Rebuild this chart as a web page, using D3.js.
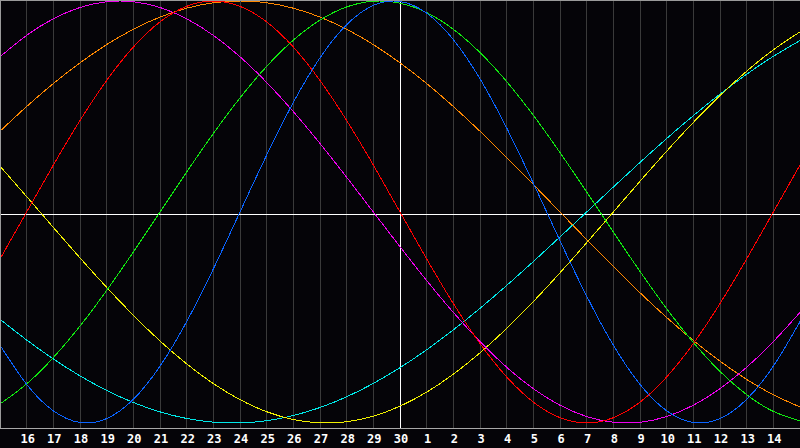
<!DOCTYPE html>
<html><head><meta charset="utf-8">
<script src="https://cdn.jsdelivr.net/npm/d3@7"></script>
<style>
html,body{margin:0;padding:0;background:#000;}
svg{display:block;}
</style></head>
<body>
<svg id="chart" width="800" height="448"></svg>
<script>
// day offsets of the 30-day window (0 = the 15th)
const dayOffsets = [0,1,2,3,4,5,6,7,8,9,10,11,12,13,14,15,16,17,18,19,20,21,22,23,24,25,26,27,28,29,30];
const tickOffsets = [1,2,3,4,5,6,7,8,9,10,11,12,13,14,15,16,17,18,19,20,21,22,23,24,25,26,27,28,29];
const tickLabels = ["16","17","18","19","20","21","22","23","24","25","26","27","28","29","30","1","2","3","4","5","6","7","8","9","10","11","12","13","14"];
const todayOffset = 15;

const physical = [-0.6311,-0.8170,-0.9423,-0.9977,-0.9791,-0.8879,-0.7308,-0.5196,-0.2698,0,0.2698,0.5196,0.7308,0.8879,0.9791,0.9977,0.9423,0.8170,0.6311,0.3984,0.1362,-0.1362,-0.3984,-0.6311,-0.8170,-0.9423,-0.9977,-0.9791,-0.8879,-0.7308,-0.5196];
const emotional = [-0.2225,0,0.2225,0.4339,0.6235,0.7818,0.9010,0.9749,1,0.9749,0.9010,0.7818,0.6235,0.4339,0.2225,0,-0.2225,-0.4339,-0.6235,-0.7818,-0.9010,-0.9749,-1,-0.9749,-0.9010,-0.7818,-0.6235,-0.4339,-0.2225,0,0.2225];
const intellectual = [-0.9096,-0.8146,-0.6901,-0.5406,-0.3717,-0.1893,0,0.1893,0.3717,0.5406,0.6901,0.8146,0.9096,0.9718,0.9989,0.9898,0.9450,0.8660,0.7557,0.6182,0.4582,0.2817,0.0951,-0.0951,-0.2817,-0.4582,-0.6182,-0.7557,-0.8660,-0.9450,-0.9898];
const intuitive = [0.7357,0.8372,0.9158,0.9694,0.9966,0.9966,0.9694,0.9158,0.8372,0.7357,0.6142,0.4759,0.3247,0.1646,0,-0.1646,-0.3247,-0.4759,-0.6142,-0.7357,-0.8372,-0.9158,-0.9694,-0.9966,-0.9966,-0.9694,-0.9158,-0.8372,-0.7357,-0.6142,-0.4759];
const aesthetic = [0.2174,0.0730,-0.0730,-0.2174,-0.3572,-0.4894,-0.6112,-0.7199,-0.8133,-0.8894,-0.9465,-0.9834,-0.9993,-0.9940,-0.9675,-0.9203,-0.8536,-0.7687,-0.6673,-0.5517,-0.4245,-0.2881,-0.1456,0,0.1456,0.2881,0.4245,0.5517,0.6673,0.7687,0.8536];
const awareness = [0.3827,0.5,0.6088,0.7071,0.7934,0.8660,0.9239,0.9659,0.9914,1,0.9914,0.9659,0.9239,0.8660,0.7934,0.7071,0.6088,0.5,0.3827,0.2588,0.1305,0,-0.1305,-0.2588,-0.3827,-0.5,-0.6088,-0.7071,-0.7934,-0.8660,-0.9239];
const spiritual = [-0.5085,-0.6068,-0.6965,-0.7766,-0.8456,-0.9027,-0.9473,-0.9786,-0.9961,-0.9996,-0.9890,-0.9646,-0.9267,-0.8758,-0.8125,-0.7378,-0.6528,-0.5586,-0.4566,-0.3482,-0.2349,-0.1183,0,0.1183,0.2349,0.3482,0.4566,0.5586,0.6528,0.7378,0.8125];

const seriesNames = ["awareness","spiritual","aesthetic","intuitive","emotional","intellectual","physical"];
const seriesValues = [awareness, spiritual, aesthetic, intuitive, emotional, intellectual, physical];
const seriesColors = ["#ff8800","#00e8e8","#f0f000","#ee00ee","#ff0000","#10e810","#0a64ff"];

const W = 800, H = 448, plotBottom = 428;
const svg = d3.select("#chart");
svg.append("rect").attr("width", W).attr("height", H).attr("fill", "#050408");

const x = d3.scaleLinear().domain([0, 30]).range([0, 800]);
const y = d3.scaleLinear().domain([-1, 1]).range([423, 1]);
const px = v => Math.floor(v) + 0.5;

svg.append("defs").append("clipPath").attr("id", "clip")
  .append("rect").attr("x", 0).attr("y", 0).attr("width", W).attr("height", plotBottom);

// grid
svg.append("g").selectAll("line").data(tickOffsets).join("line")
  .attr("x1", d => px(x(d))).attr("x2", d => px(x(d)))
  .attr("y1", 0).attr("y2", plotBottom)
  .attr("stroke", "#3a3a3a").attr("stroke-width", 1)
  .attr("shape-rendering", "crispEdges");

// zero line and today line
svg.append("line").attr("x1", 0).attr("x2", W)
  .attr("y1", px(y(0)) + 2).attr("y2", px(y(0)) + 2)
  .attr("stroke", "#ffffff").attr("shape-rendering", "crispEdges");
svg.append("line").attr("x1", px(x(todayOffset))).attr("x2", px(x(todayOffset)))
  .attr("y1", 0).attr("y2", plotBottom)
  .attr("stroke", "#ffffff").attr("shape-rendering", "crispEdges");

// curves
const line = d3.line().x((d, i) => x(dayOffsets[i])).y(d => y(d)).curve(d3.curveNatural);
svg.append("g").attr("clip-path", "url(#clip)").selectAll("path").data(seriesValues).join("path")
  .attr("d", d => line(d))
  .attr("fill", "none")
  .attr("stroke", (d, i) => seriesColors[i])
  .attr("stroke-width", 1)
  .attr("shape-rendering", "crispEdges");

// borders
svg.append("line").attr("x1", 0).attr("x2", W).attr("y1", 0.5).attr("y2", 0.5)
  .attr("stroke", "#9a9a9a").attr("shape-rendering", "crispEdges");
svg.append("line").attr("x1", 0.5).attr("x2", 0.5).attr("y1", 0).attr("y2", plotBottom)
  .attr("stroke", "#9a9a9a").attr("shape-rendering", "crispEdges");
svg.append("line").attr("x1", 0).attr("x2", W).attr("y1", plotBottom + 0.5).attr("y2", plotBottom + 0.5)
  .attr("stroke", "#a8a8a8").attr("shape-rendering", "crispEdges");

// labels
const axis = d3.axisBottom(x).tickValues(tickOffsets)
  .tickFormat((d, i) => tickLabels[i]).tickSize(0).tickPadding(0);
const ag = svg.append("g").attr("transform", `translate(0.5,${plotBottom})`).call(axis);
ag.select(".domain").remove();
ag.selectAll("text")
  .attr("y", 15).attr("dy", 0)
  .attr("fill", "#ffffff")
  .style("font-family", "'DejaVu Sans Mono', monospace")
  .style("font-weight", "bold")
  .style("font-size", "12px");
</script>
</body></html>
